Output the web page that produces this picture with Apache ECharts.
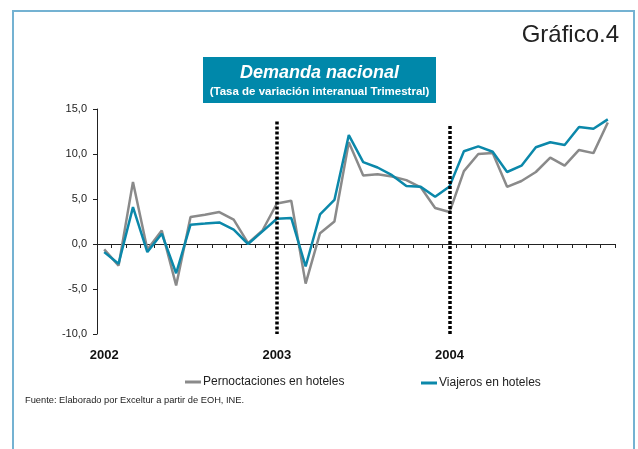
<!DOCTYPE html>
<html>
<head>
  <meta http-equiv="Content-Type" content="text/html; charset=utf-8"/>
  <title>Demanda nacional</title>
  <script src="https://cdn.jsdelivr.net/npm/echarts@6/dist/echarts.min.js"></script>
  <style>
    html, body { margin: 0; padding: 0; background: #fff; }
    #chart { width: 638px; height: 449px; }
  </style>
</head>
<body>
<div id="chart"></div>
<script type="text/javascript">
// monthly points, 3 years
var years = ['2002', '2003', '2004'];
var categories = [];
for (var y = 0; y < years.length; y++) {
  for (var m = 1; m <= 12; m++) {
    categories.push(years[y] + '-' + (m < 10 ? '0' + m : '' + m));
  }
}

var pernoctaciones = [-0.6, -2.4, 6.9, -0.6, 1.5, -4.6, 3.0, 3.25, 3.55, 2.7, 0.1, 1.5,
  4.5, 4.8, -4.4, 1.2, 2.5, 11.3, 7.6, 7.75, 7.5, 7.1, 6.3, 4.0,
  3.55, 8.1, 10.0, 10.1, 6.35, 7.0, 8.0, 9.6, 8.7, 10.45, 10.1, 13.5];
var viajeros = [-0.9, -2.2, 4.1, -0.9, 1.15, -3.25, 2.15, 2.27, 2.4, 1.6, 0.0, 1.4,
  2.8, 2.9, -2.5, 3.3, 4.9, 12.1, 9.1, 8.5, 7.65, 6.45, 6.35, 5.25,
  6.4, 10.3, 10.85, 10.25, 8.0, 8.7, 10.75, 11.3, 11.0, 13.0, 12.8, 13.85];

// dotted separators at start of 2003 and 2004: [category, top value]
var separators = [['2003-01', 13.6], ['2004-01', 13.1]];

var FONT = '"Liberation Sans", Arial, sans-serif';
var GREY = '#8a8a8a';
var TEAL = '#0b88aa';

var chart = echarts.init(document.getElementById('chart'));

var sepData = separators.map(function (s) {
  return [{coord: [s[0], s[1]]}, {coord: [s[0], -10]}];
});

var option = {
  animation: false,
  backgroundColor: '#fff',
  textStyle: {fontFamily: FONT},
  grid: {left: 97, right: 23, top: 109, bottom: 115, containLabel: false},
  xAxis: [
    {
      type: 'category',
      data: categories,
      boundaryGap: true,
      axisLine: {onZero: true, lineStyle: {color: '#222', width: 1}},
      axisTick: {show: true, interval: 0, length: 4, lineStyle: {color: '#222'}},
      axisLabel: {show: false}
    },
    {
      type: 'category',
      data: categories,
      position: 'bottom',
      boundaryGap: true,
      axisLine: {show: false, onZero: false},
      axisTick: {show: false},
      axisLabel: {
        interval: 0,
        margin: 15,
        fontSize: 13,
        fontWeight: 'bold',
        color: '#111',
        fontFamily: FONT,
        formatter: function (v) {
          return v.slice(5) === '01' ? v.slice(0, 4) : '';
        }
      }
    }
  ],
  yAxis: {
    type: 'value',
    min: -10,
    max: 15,
    interval: 5,
    axisLine: {show: true, lineStyle: {color: '#222', width: 1}},
    axisTick: {show: true, length: 4, lineStyle: {color: '#222'}},
    splitLine: {show: false},
    axisLabel: {
      margin: 10,
      fontSize: 11,
      color: '#222',
      fontFamily: FONT,
      formatter: function (v) { return v.toFixed(1).replace('.', ','); }
    }
  },
  legend: [
    {
      data: ['Pernoctaciones en hoteles'],
      left: 185, top: 376,
      icon: 'rect', itemWidth: 16, itemHeight: 3,
      padding: 0,
      textStyle: {fontSize: 12, color: '#222', fontFamily: FONT, padding: [0, 0, 0, -3]}
    },
    {
      data: ['Viajeros en hoteles'],
      left: 421, top: 377,
      icon: 'rect', itemWidth: 16, itemHeight: 3,
      padding: 0,
      textStyle: {fontSize: 12, color: '#222', fontFamily: FONT, padding: [0, 0, 0, -3]}
    }
  ],
  series: [
    {
      name: 'Pernoctaciones en hoteles',
      type: 'line',
      data: pernoctaciones,
      showSymbol: false,
      symbol: 'none',
      lineStyle: {color: GREY, width: 2.5},
      itemStyle: {color: GREY},
      z: 2
    },
    {
      name: 'Viajeros en hoteles',
      type: 'line',
      data: viajeros,
      showSymbol: false,
      symbol: 'none',
      lineStyle: {color: TEAL, width: 2.5},
      itemStyle: {color: TEAL},
      z: 3,
      markLine: {
        silent: true,
        symbol: ['none', 'none'],
        label: {show: false},
        lineStyle: {color: '#000', width: 3.5, type: [3, 2]},
        data: sepData,
        z: 5
      }
    }
  ],
  graphic: [
    {
      type: 'rect',
      shape: {x: 13, y: 11, width: 621, height: 460},
      style: {fill: 'none', stroke: '#74b2d2', lineWidth: 2},
      silent: true
    },
    {
      type: 'text',
      x: 619, y: 35,
      style: {text: 'Gráfico.4', font: '24px ' + FONT, fill: '#222', align: 'right', verticalAlign: 'middle'}
    },
    {
      type: 'rect',
      shape: {x: 203, y: 57, width: 233, height: 46},
      style: {fill: '#0088aa'}
    },
    {
      type: 'text',
      x: 319.5, y: 73,
      style: {
        text: 'Demanda nacional',
        font: 'italic bold 18px ' + FONT,
        fill: '#fff', align: 'center', verticalAlign: 'middle'
      }
    },
    {
      type: 'text',
      x: 319.5, y: 92,
      style: {
        text: '(Tasa de variación interanual Trimestral)',
        font: 'bold 11.5px ' + FONT,
        fill: '#fff', align: 'center', verticalAlign: 'middle'
      }
    },
    {
      type: 'text',
      x: 25, y: 400,
      style: {
        text: 'Fuente: Elaborado por Exceltur a partir de EOH, INE.',
        font: '9.3px ' + FONT,
        fill: '#222', verticalAlign: 'middle'
      }
    }
  ]
};

chart.setOption(option);
</script>
</body>
</html>
